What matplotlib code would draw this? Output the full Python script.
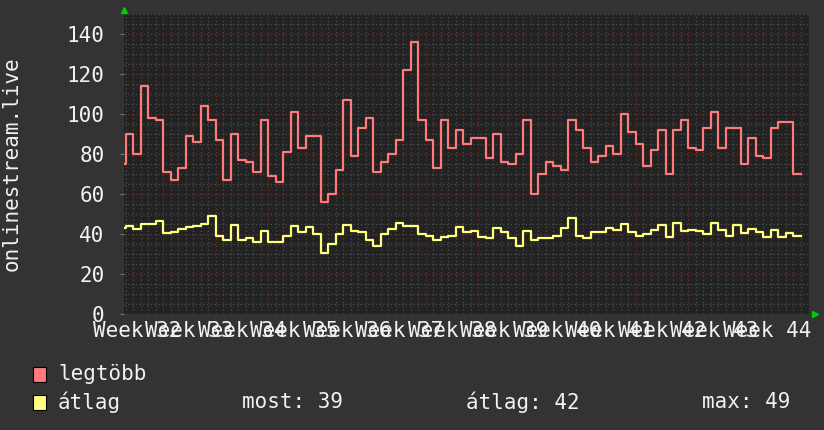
import numpy as np
import matplotlib
matplotlib.use("Agg")
import matplotlib.pyplot as plt
from matplotlib.patches import Rectangle

# ---- data (daily values) ----
legtobb = [75, 90, 80, 114, 98, 97, 71, 67, 73, 89, 86, 104, 97, 87, 67, 90, 77, 76, 71, 97,
           69, 66, 81, 101, 83, 89, 89, 56, 60, 72, 107, 79, 93, 98, 71, 76, 80, 87, 122, 136,
           97, 87, 73, 97, 83, 92, 85, 88, 88, 78, 90, 76, 75, 80, 97, 60, 70, 76, 74, 72,
           97, 92, 83, 76, 79, 84, 80, 100, 91, 85, 74, 82, 92, 70, 92, 97, 83, 82, 93, 101,
           83, 93, 93, 75, 88, 79, 78, 93, 96, 96, 70]
atlag = [43, 44, 42.5, 45, 45, 46.5, 40.5, 41, 42.5, 43.5, 44, 45, 49, 39, 37, 44.5, 37, 38, 36, 41.5,
         36, 36, 39, 44, 41, 43.5, 40, 30.5, 35, 40, 44.5, 41.5, 41, 37, 34, 40, 42.5, 45.5, 44, 44,
         40, 39, 37, 38.5, 39, 43.5, 41, 41.5, 38.5, 38, 43, 41, 38, 34, 41.5, 37, 38, 38, 39, 43,
         48, 39, 38, 41, 41, 43, 42, 45, 41, 39, 40, 42, 44.5, 38.5, 45.5, 41.5, 42, 41.5, 40, 45.5,
         42, 39, 44.5, 40.5, 42.5, 41, 38.5, 42, 38.5, 40.5, 39]
week_labels = ["Week 32", "Week 33", "Week 34", "Week 35", "Week 36", "Week 37", "Week 38",
               "Week 39", "Week 40", "Week 41", "Week 42", "Week 43", "Week 44"]
ylabel = "onlinestream.live"
legend_names = ["legtöbb", "átlag"]
stats_text = ["most: 39", "átlag: 42", "max: 49"]

first_day = 1  # day index (0 = start of week 32) of first sample
x_range = (1.8, 93.13)
y_range = (0, 150)

# ---- style ----
FONT = "DejaVu Sans Mono"
BG = "#333333"
PLOT_BG = "#222222"
RED = "#ff7b7b"
YEL = "#ffff80"
MINOR = "#4d4d4d"
MAJOR = "#6a3434"
TXT = "#f2f2f2"
FS = 15

fig = plt.figure(figsize=(8.24, 4.30), dpi=100, facecolor=BG)
ax = fig.add_axes([124 / 824, 1 - 314 / 430, 685 / 824, 300 / 430])
ax.set_facecolor(PLOT_BG)
for s in ax.spines.values():
    s.set_visible(False)

ax.set_xlim(*x_range)
ax.set_ylim(*y_range)

# grid
n_weeks = len(week_labels)
for d in range(0, 7 * n_weeks + 2):
    if d % 7 == 0:
        ax.axvline(d, color=MAJOR, lw=0.9, ls=(0, (1, 2)), zorder=1)
    else:
        ax.axvline(d, color=MINOR, lw=0.9, ls=(0, (1, 2)), zorder=1)
for v in range(0, 151, 5):
    if v % 20 == 0:
        ax.axhline(v, color=MAJOR, lw=0.9, ls=(0, (1, 2)), zorder=1)
    else:
        ax.axhline(v, color=MINOR, lw=0.9, ls=(0, (1, 2)), zorder=1)

# data (step lines)
xs = np.arange(first_day, first_day + len(legtobb) + 1)
ax.plot(xs, legtobb + [legtobb[-1]], drawstyle="steps-post", color=RED, lw=1.6, zorder=3)
ax.plot(xs, atlag + [atlag[-1]], drawstyle="steps-post", color=YEL, lw=1.6, zorder=3)

# ticks
centers = [7 * k + 3.5 for k in range(n_weeks)]
ax.set_xticks(centers)
ax.set_xticklabels(week_labels, fontfamily=FONT, fontsize=FS, color=TXT)
ax.tick_params(axis="x", length=0, pad=5)
ax.set_yticks(range(0, 141, 20))
ax.set_yticklabels([str(v) for v in range(0, 141, 20)], fontfamily=FONT, fontsize=FS, color=TXT)
ax.tick_params(axis="y", length=3, color="#777777", pad=11)

# arrows
ax.plot([0], [1.015], marker="^", color="#00cc00", ms=5, transform=ax.transAxes, clip_on=False, zorder=5)
ax.plot([1.009], [0], marker=">", color="#00cc00", ms=5, transform=ax.transAxes, clip_on=False, zorder=5)

# y label
fig.text(12 / 824, 1 - 164 / 430, ylabel, rotation=90, ha="center", va="center",
         fontfamily=FONT, fontsize=FS, color=TXT)

# legend
colors = [RED, YEL]
rows_y = [374, 402]
for name, c, yc in zip(legend_names, colors, rows_y):
    fig.patches.append(Rectangle((33 / 824, 1 - (yc + 8) / 430), 13 / 824, 15 / 430,
                                 transform=fig.transFigure, facecolor=c, edgecolor="black", lw=0.8))
    fig.text(58 / 824, 1 - yc / 430, name, ha="left", va="center",
             fontfamily=FONT, fontsize=FS, color=TXT)
for txt, xp in zip(stats_text, [242, 466, 702]):
    fig.text(xp / 824, 1 - 402 / 430, txt, ha="left", va="center",
             fontfamily=FONT, fontsize=FS, color=TXT)

fig.savefig("out.png", dpi=100, facecolor=BG)
